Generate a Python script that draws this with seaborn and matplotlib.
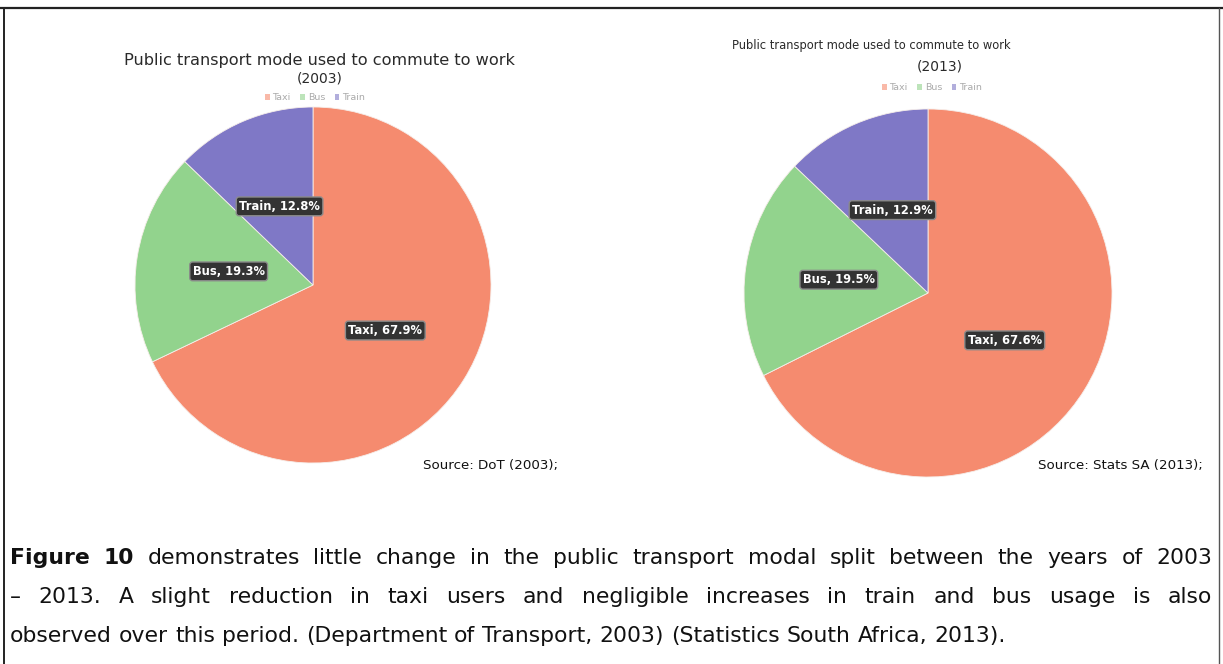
import matplotlib
matplotlib.use("Agg")
import matplotlib.pyplot as plt
import seaborn as sns
from matplotlib.patches import Patch
from matplotlib.lines import Line2D

# ---------------- data ----------------
categories = ["Taxi", "Bus", "Train"]
share_2003 = [67.9, 19.3, 12.8]
share_2013 = [67.6, 19.5, 12.9]
colors = ["#F58B6F", "#92D38D", "#7F78C6"]

title_main = "Public transport mode used to commute to work"
years = ["2003", "2013"]
sources = ["Source: DoT (2003);", "Source: Stats SA (2013);"]

caption_lines = [
    [("Figure 10", "bold"), ("demonstrates little change in the public transport modal split between the years of 2003", "normal")],
    [("\u2013 2013. A slight reduction in taxi users and negligible increases in train and bus usage is also", "normal")],
    [("observed over this period. (Department of Transport, 2003) (Statistics South Africa, 2013).", "normal")],
]

# ---------------- figure ----------------
sns.set_theme(style="white")
plt.rcParams["font.family"] = ["DejaVu Sans"]

W, H = 1223, 664
fig = plt.figure(figsize=(W / 100, H / 100), dpi=100)
fig.patch.set_facecolor("white")


def px(x, y):
    return x / W, 1 - y / H


def pie_axes(cx, cy, r):
    return fig.add_axes([(cx - r) / W, 1 - (cy + r) / H, 2 * r / W, 2 * r / H])


def draw_pie(ax, values, labeldist):
    labels = [f"{c}, {v}%" for c, v in zip(categories, values)]
    wedges, texts = ax.pie(values, colors=colors, startangle=90, counterclock=False,
                           labels=labels, labeldistance=labeldist,
                           wedgeprops=dict(edgecolor="#f6eeea", linewidth=0.6))
    for t in texts:
        t.set_ha("center")
        t.set_va("center")
        t.set_color("white")
        t.set_fontweight("bold")
        t.set_fontsize(8.3)
        t.set_bbox(dict(boxstyle="round,pad=0.25", fc="#333333", ec="#8a8a8a", lw=1.0))
    ax.set_xlim(-1, 1)
    ax.set_ylim(-1, 1)
    ax.set_aspect("equal")
    ax.axis("off")


ax1 = pie_axes(313, 285, 178)
draw_pie(ax1, share_2003, 0.48)
ax2 = pie_axes(928, 293, 184)
draw_pie(ax2, share_2013, 0.49)

# titles
fig.text(*px(319, 61), title_main, ha="center", va="center", fontsize=11.6, color="#2a2a2a")
fig.text(*px(320, 79), f"({years[0]})", ha="center", va="center", fontsize=10, color="#2a2a2a")
fig.text(*px(871, 46), title_main, ha="center", va="center", fontsize=8.3, color="#2a2a2a")
fig.text(*px(940, 67), f"({years[1]})", ha="center", va="center", fontsize=10, color="#2a2a2a")

# legends
handles = [Patch(facecolor=c, edgecolor="none", alpha=0.6) for c in colors]
for ax, (lx, ly) in [(ax1, (315, 98)), (ax2, (932, 88))]:
    ax.legend(handles, categories, loc="center", bbox_to_anchor=px(lx, ly),
              bbox_transform=fig.transFigure, ncol=3, fontsize=6.8, frameon=False,
              handlelength=0.5, handleheight=0.5, handletextpad=0.3, columnspacing=1.0,
              labelcolor="#aaaaaa")

# sources
fig.text(*px(423, 465), sources[0], ha="left", va="center", fontsize=9.6, color="#111111")
fig.text(*px(1038, 465), sources[1], ha="left", va="center", fontsize=9.6, color="#111111")

# ---------------- caption (justified) ----------------
renderer = fig.canvas.get_renderer()


def measure(s, weight, size):
    t = fig.text(0, 0, s, fontsize=size, fontweight=weight)
    w = t.get_window_extent(renderer).width
    t.remove()
    return w


def tokens_of(line):
    toks = []
    for seg, weight in line:
        for w in seg.split(" "):
            toks.append((w, weight))
    return toks


x_left, x_right = 10, 1212
base = 10
toks3 = tokens_of(caption_lines[2])
space_base = measure("a a", "normal", base) - measure("aa", "normal", base)
natural = sum(measure(w, wt, base) for w, wt in toks3) + space_base * (len(toks3) - 1)
fsize = base * (1002 - 10) / natural

line_y = [558, 597, 636]
for li, line in enumerate(caption_lines):
    toks = tokens_of(line)
    widths = [measure(w, wt, fsize) for w, wt in toks]
    space = measure("a a", "normal", fsize) - measure("aa", "normal", fsize)
    if li < 2:
        gap = (x_right - x_left - sum(widths)) / (len(toks) - 1)
    else:
        gap = space
    x = x_left
    for (w, wt), wd in zip(toks, widths):
        fig.text(*px(x, line_y[li]), w, ha="left", va="center", fontsize=fsize,
                 fontweight=wt, color="#111111")
        x += wd + gap

# ---------------- border lines ----------------
lc = "#222222"
fig.add_artist(Line2D([0, 1], [1 - 8 / H, 1 - 8 / H], transform=fig.transFigure, color=lc, lw=1.6))
fig.add_artist(Line2D([4 / W, 4 / W], [0, 1 - 8 / H], transform=fig.transFigure, color=lc, lw=1.4))
fig.add_artist(Line2D([1219 / W, 1219 / W], [0, 1 - 8 / H], transform=fig.transFigure, color="#555555", lw=1.0))

fig.savefig("out.png", dpi=100, facecolor="white")
